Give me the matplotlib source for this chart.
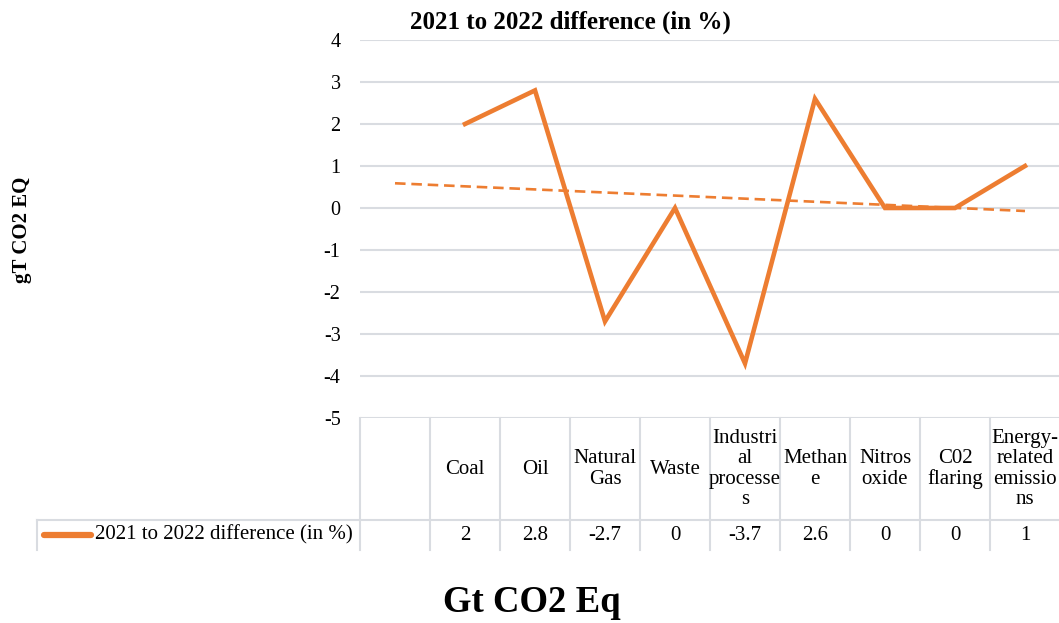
import numpy as np
import matplotlib.pyplot as plt

# ------------------------------------------------
# Data
# ------------------------------------------------
categories = ["", "Coal", "Oil", "Natural\nGas", "Waste", "Industri\nal\nprocesse\ns",
              "Methan\ne", "Nitros\noxide", "C02\nflaring", "Energy-\nrelated\nemissio\nns"]
values = [np.nan, 2, 2.8, -2.7, 0, -3.7, 2.6, 0, 0, 1]
value_labels = ["", "2", "2.8", "-2.7", "0", "-3.7", "2.6", "0", "0", "1"]
series_name = "2021 to 2022 difference (in %)"
y_ticks = [4, 3, 2, 1, 0, -1, -2, -3, -4, -5]

ORANGE = "#ED7D31"
GRID = "#D9DCE1"

plt.rcParams['font.family'] = ['Liberation Serif', 'DejaVu Serif']

fig = plt.figure(figsize=(10.59, 6.23), dpi=100)
W, H = 1059, 623
# plot area in pixels: x 360..1060, y 40..418
ax = fig.add_axes([360 / W, 1 - 418 / H, 700 / W, 378 / H])

x = np.arange(1, len(categories) + 1)
vals = np.array(values, dtype=float)

# series line
ax.plot(x, vals, color=ORANGE, lw=3.3, solid_joinstyle='miter', zorder=3)

# linear trendline over the non-empty points, extended across all categories
mask = ~np.isnan(vals)
slope, intercept = np.polyfit(x[mask], vals[mask], 1)
ax.plot(x, slope * x + intercept, color=ORANGE, lw=1.9, dashes=(4, 2.2), zorder=2)

ax.set_xlim(0.5, len(categories) + 0.5)
ax.set_ylim(-5, 4)
ax.set_yticks(y_ticks)
ax.set_yticklabels([str(t) for t in y_ticks], fontsize=14.5)
ax.set_xticks([])
ax.tick_params(axis='y', length=0, pad=14)
for s in ax.spines.values():
    s.set_visible(False)
ax.grid(axis='y', color=GRID, lw=1.5)
ax.set_axisbelow(True)

# ------------------------------------------------
# Data table below the plot
# ------------------------------------------------
tr = ax.get_xaxis_transform()
row1 = -102 / 378   # bottom of category row
row2 = -132 / 378   # bottom of value row
edges = np.arange(0.5, len(categories) + 1.5)
for e in edges[:-1]:
    ax.plot([e, e], [0, row2], color=GRID, lw=1.5, transform=tr, clip_on=False)
# horizontal line between rows, running out under the legend cell
fig.add_artist(plt.Line2D([37 / W, 1], [1 - 520 / H, 1 - 520 / H], color=GRID, lw=1.5))
fig.add_artist(plt.Line2D([37 / W, 37 / W], [1 - 520 / H, 1 - 550 / H], color=GRID, lw=1.5))

for xi, cat, lab in zip(x, categories, value_labels):
    ax.text(xi, row1 / 2, cat, transform=tr, ha='center', va='center',
            fontsize=15, linespacing=1.08, clip_on=False)
    ax.text(xi, (row1 + row2) / 2, lab, transform=tr, ha='center', va='center',
            fontsize=15, clip_on=False)

# legend key in the value row
ly = 1 - 535 / H
fig.add_artist(plt.Line2D([44 / W, 91 / W], [ly, ly], color=ORANGE, lw=4.5, solid_capstyle='round'))
fig.text(95 / W, ly, series_name, ha='left', va='center', fontsize=15)

# ------------------------------------------------
# Titles
# ------------------------------------------------
fig.text(570 / W, 1 - 22 / H, series_name, ha='center', va='center',
         fontsize=18, fontweight='bold')
fig.text(22 / W, 1 - 230 / H, "gT CO2 EQ", ha='center', va='center',
         rotation=90, fontsize=15, fontweight='bold')
fig.text(532 / W, 1 - 603 / H, "Gt CO2 Eq", ha='center', va='center',
         fontsize=26.5, fontweight='bold')

fig.savefig("out.png", dpi=100)
